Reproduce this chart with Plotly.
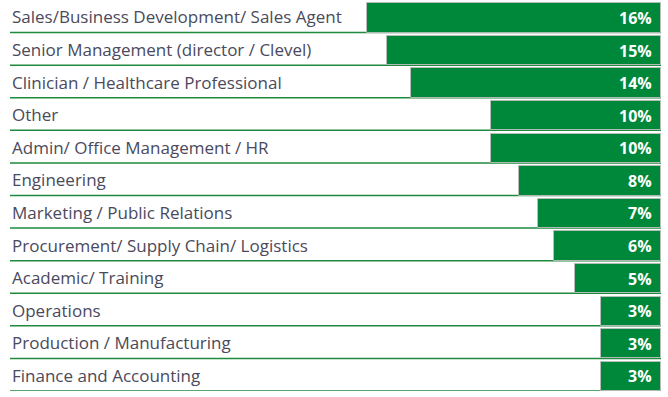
import plotly.graph_objects as go

categories = [
    "Sales/Business Development/ Sales Agent",
    "Senior Management (director / Clevel)",
    "Clinician / Healthcare Professional",
    "Other",
    "Admin/ Office Management / HR",
    "Engineering",
    "Marketing / Public Relations",
    "Procurement/ Supply Chain/ Logistics",
    "Academic/ Training",
    "Operations",
    "Production / Manufacturing",
    "Finance and Accounting",
]
# bar lengths as drawn
values = [16.0, 14.9, 13.6, 9.25, 9.25, 7.7, 6.7, 5.8, 4.65, 3.25, 3.25, 3.25]
# printed labels
labels = ["16%", "15%", "14%", "10%", "10%", "8%", "7%", "6%", "5%", "3%", "3%", "3%"]

W, H = 668, 397
ml, mr, mt, mb = 0, 7, 0, 6
pw = W - ml - mr
px_per_unit = 18.4
xmax = pw / px_per_unit

green = "#00883A"
line_green = "#1E8B3F"
text_col = "#4A4A5C"
font_family = "Open Sans, Noto Sans, sans-serif"

idx = list(range(len(categories)))

fig = go.Figure()
fig.add_trace(go.Bar(
    x=values,
    y=idx,
    orientation="h",
    width=0.9,
    offset=-0.4,
    marker=dict(color=green, line=dict(color="rgba(190,190,190,0.9)", width=1)),
    hoverinfo="skip",
    showlegend=False,
))

shapes = []
annotations = []
for i, (c, t) in enumerate(zip(categories, labels)):
    shapes.append(dict(
        type="line", xref="paper", yref="y",
        x0=10 / pw, x1=1, y0=i + 0.5, y1=i + 0.5,
        line=dict(color=line_green, width=1.5), layer="below",
    ))
    annotations.append(dict(
        xref="paper", yref="y", x=10 / pw, y=i + 0.02,
        text=c, showarrow=False, xanchor="left", yanchor="middle",
        font=dict(family=font_family, size=17, color=text_col),
    ))
    annotations.append(dict(
        xref="x", yref="y", x=0, y=i + 0.05,
        text="<b>" + t + "</b>", showarrow=False, xanchor="right", yanchor="middle",
        xshift=-7,
        font=dict(family=font_family, size=16, color="white"),
    ))

fig.update_layout(
    width=W, height=H,
    margin=dict(l=ml, r=mr, t=mt, b=mb),
    paper_bgcolor="white", plot_bgcolor="white",
    xaxis=dict(range=[xmax, 0], visible=False, fixedrange=True),
    yaxis=dict(range=[len(categories) - 0.5, -0.5], visible=False, fixedrange=True),
    shapes=shapes,
    annotations=annotations,
    bargap=0,
)

fig.write_html(
    "out.html",
    config={"displayModeBar": False},
    post_script="document.body.style.margin='0';document.body.style.padding='0';",
)
